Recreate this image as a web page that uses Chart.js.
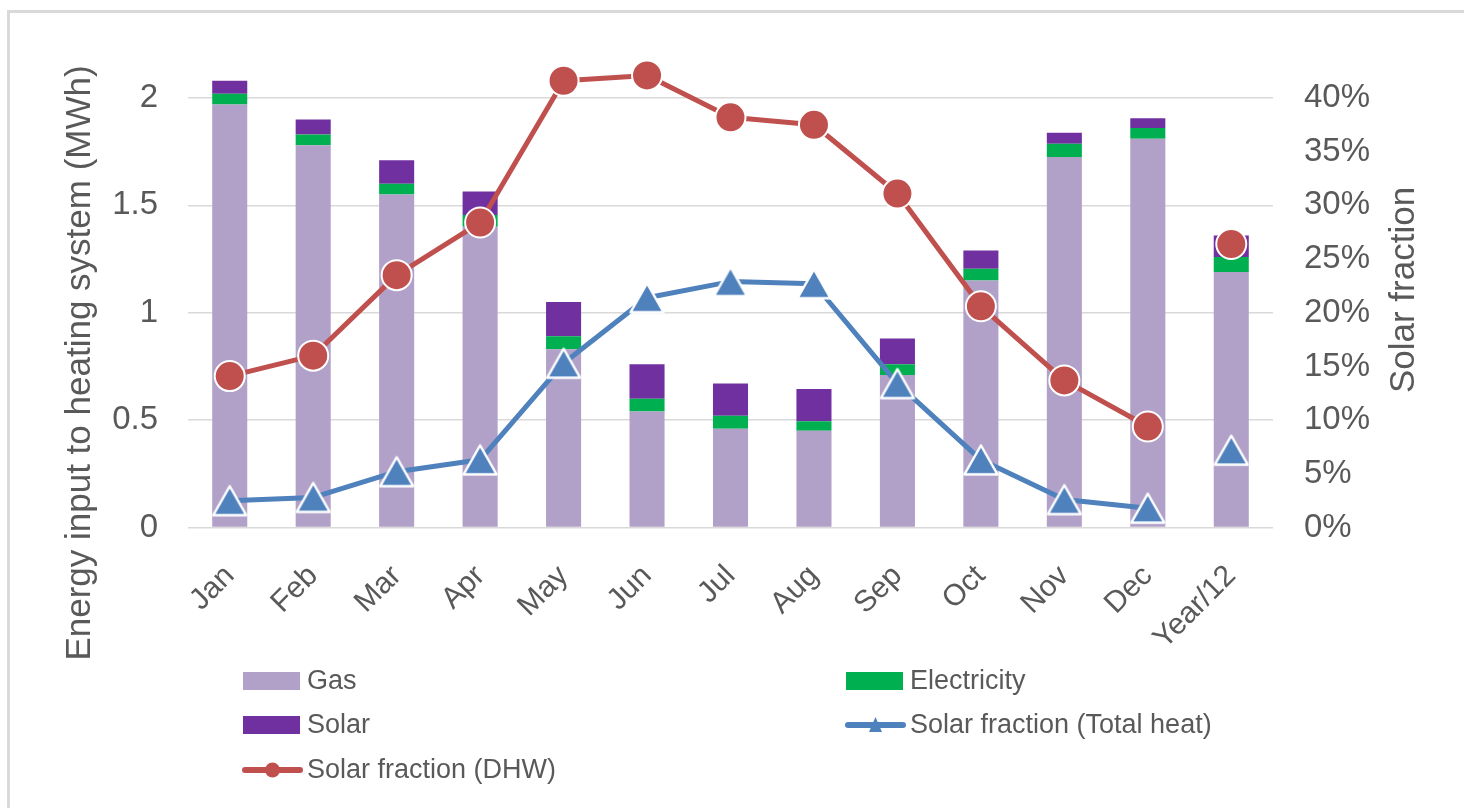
<!DOCTYPE html>
<html>
<head>
<meta charset="utf-8">
<script src="https://cdn.jsdelivr.net/npm/chart.js@4.4.1/dist/chart.umd.min.js"></script>
<style>
  html, body { margin: 0; padding: 0; background: #ffffff; overflow: hidden; }
  #wrap { position: absolute; left: 0; top: 0; width: 1464px; height: 808px; }
</style>
</head>
<body>
<div id="wrap"><canvas id="c" width="1464" height="808"></canvas></div>
<script>
// ---- Data ----
const categories = ['Jan','Feb','Mar','Apr','May','Jun','Jul','Aug','Sep','Oct','Nov','Dec','Year/12'];
const gasValues = [1.97, 1.78, 1.55, 1.40, 0.83, 0.54, 0.46, 0.45, 0.71, 1.15, 1.725, 1.81, 1.19];
const electricityValues = [0.05, 0.05, 0.05, 0.055, 0.06, 0.06, 0.06, 0.045, 0.05, 0.055, 0.062, 0.05, 0.07];
const solarValues = [0.06, 0.07, 0.11, 0.11, 0.16, 0.16, 0.15, 0.15, 0.12, 0.085, 0.051, 0.045, 0.10];
const fractionTotalHeat = [2.5, 2.8, 5.2, 6.3, 15.3, 21.4, 22.9, 22.7, 13.4, 6.3, 2.6, 1.8, 7.2];
const fractionDHW = [14.1, 16.0, 23.5, 28.4, 41.6, 42.1, 38.2, 37.5, 31.1, 20.6, 13.7, 9.4, 26.4];
const leftTicks = [0, 0.5, 1, 1.5, 2];
const rightTicks = [0, 5, 10, 15, 20, 25, 30, 35, 40];

// ---- Styles ----
const FONT = "'Liberation Sans', Arial, sans-serif";
const TXT = '#595959';
const C_GAS = '#b1a0c7', C_ELEC = '#00b050', C_SOLAR = '#7030a0';
const C_BLUE = '#4f81bd', C_RED = '#c0504d';

function makeTriangle(w, h, fill, stroke, lw) {
  const cv = document.createElement('canvas');
  cv.width = w; cv.height = h;
  const g = cv.getContext('2d');
  g.beginPath();
  g.moveTo(w / 2, lw);
  g.lineTo(w - lw, h - lw);
  g.lineTo(lw, h - lw);
  g.closePath();
  g.fillStyle = fill; g.fill();
  if (stroke) { g.lineWidth = lw; g.strokeStyle = stroke; g.lineJoin = 'round'; g.stroke(); }
  return cv;
}
const triBig = makeTriangle(38, 34, C_BLUE, '#ffffff', 2.5);

const noLastSeg = ctx => ctx.p1DataIndex === categories.length - 1 ? 'rgba(0,0,0,0)' : undefined;

const framePlugin = {
  id: 'frameAndText',
  beforeDraw(chart) {
    const ctx = chart.ctx;
    ctx.save();
    ctx.fillStyle = '#ffffff';
    ctx.fillRect(0, 0, chart.width, chart.height);
    ctx.strokeStyle = '#d9d9d9';
    ctx.lineWidth = 3;
    ctx.strokeRect(8.5, 11.5, 1500, 900);
    ctx.restore();
  },
  afterDraw(chart) {
    const ctx = chart.ctx;
    ctx.save();
    ctx.fillStyle = TXT;
    ctx.textAlign = 'center';
    ctx.textBaseline = 'middle';
    // axis titles
    ctx.font = '35px ' + FONT;
    ctx.save();
    ctx.translate(80, 363);
    ctx.rotate(-Math.PI / 2);
    ctx.fillText('Energy input to heating system (MWh)', 0, 0);
    ctx.restore();
    ctx.save();
    ctx.translate(1404, 290);
    ctx.rotate(-Math.PI / 2);
    ctx.fillText('Solar fraction', 0, 0);
    ctx.restore();

    // legend (two columns, as in the reference)
    ctx.font = '27px ' + FONT;
    const ds = chart.data.datasets;
    const cols = [243, 846];
    const rows = [681, 725, 770];
    const layout = [[0, 0, 0], [1, 1, 0], [2, 0, 1], [3, 1, 1], [4, 0, 2]];
    ctx.textAlign = 'left';
    layout.forEach(([i, c, r]) => {
      const d = ds[i];
      const x = cols[c], y = rows[r];
      if (d.type === 'line') {
        ctx.strokeStyle = d.borderColor;
        ctx.lineWidth = 6;
        ctx.lineCap = 'round';
        ctx.beginPath(); ctx.moveTo(x + 2, y); ctx.lineTo(x + 57, y); ctx.stroke();
        ctx.fillStyle = d.borderColor;
        if (d.legendMarker === 'circle') {
          ctx.beginPath(); ctx.arc(x + 29.5, y, 7.5, 0, Math.PI * 2); ctx.fill();
        } else {
          ctx.beginPath();
          ctx.moveTo(x + 29.5, y - 8); ctx.lineTo(x + 36, y + 7); ctx.lineTo(x + 23, y + 7);
          ctx.closePath(); ctx.fill();
        }
      } else {
        ctx.fillStyle = d.backgroundColor;
        ctx.fillRect(x, y - 9, 57, 18);
      }
      ctx.fillStyle = TXT;
      ctx.fillText(d.label, x + 64, y + 1);
    });
    ctx.restore();
  }
};

new Chart(document.getElementById('c'), {
  data: {
    labels: categories,
    datasets: [
      { type: 'bar', label: 'Gas', data: gasValues, backgroundColor: C_GAS, yAxisID: 'y', stack: 's', order: 1,
        barPercentage: 0.42, categoryPercentage: 1 },
      { type: 'bar', label: 'Electricity', data: electricityValues, backgroundColor: C_ELEC, yAxisID: 'y', stack: 's', order: 1,
        barPercentage: 0.42, categoryPercentage: 1 },
      { type: 'bar', label: 'Solar', data: solarValues, backgroundColor: C_SOLAR, yAxisID: 'y', stack: 's', order: 1,
        barPercentage: 0.42, categoryPercentage: 1 },
      { type: 'line', label: 'Solar fraction (Total heat)', data: fractionTotalHeat, yAxisID: 'y1', order: 0,
        borderColor: C_BLUE, borderWidth: 5, pointStyle: triBig, pointRadius: 18, legendMarker: 'triangle',
        segment: { borderColor: noLastSeg }, tension: 0, borderJoinStyle: 'round' },
      { type: 'line', label: 'Solar fraction (DHW)', data: fractionDHW, yAxisID: 'y1', order: 0,
        borderColor: C_RED, borderWidth: 5, pointStyle: 'circle', pointRadius: 15, pointBackgroundColor: C_RED,
        pointBorderColor: '#ffffff', pointBorderWidth: 2, legendMarker: 'circle',
        segment: { borderColor: noLastSeg }, tension: 0, borderJoinStyle: 'round' }
    ]
  },
  options: {
    responsive: false,
    animation: false,
    events: [],
    layout: { padding: { top: 55, left: 0, right: 0, bottom: 0 } },
    plugins: { legend: { display: false }, tooltip: { enabled: false } },
    scales: {
      x: {
        stacked: true,
        grid: { display: false, drawTicks: false },
        border: { display: false },
        ticks: { color: TXT, font: { family: FONT, size: 30 }, maxRotation: 45, minRotation: 45, padding: 31, autoSkip: false },
        afterFit: s => { s.height = 280.5; }
      },
      y: {
        position: 'left',
        stacked: true,
        min: 0, max: 2.2,
        grid: { color: '#d9d9d9', lineWidth: 1.5, drawTicks: false },
        border: { display: false },
        afterBuildTicks: s => { s.ticks = leftTicks.map(v => ({ value: v })); },
        ticks: { color: TXT, font: { family: FONT, size: 33 }, padding: 30, callback: v => String(v) },
        afterFit: s => { s.width = 188; }
      },
      y1: {
        position: 'right',
        min: 0, max: 44,
        grid: { display: false, drawTicks: false },
        border: { display: false },
        afterBuildTicks: s => { s.ticks = rightTicks.map(v => ({ value: v })); },
        ticks: { color: TXT, font: { family: FONT, size: 33 }, padding: 31, callback: v => v + '%' },
        afterFit: s => { s.width = 191; }
      }
    }
  },
  plugins: [framePlugin]
});
</script>
</body>
</html>
